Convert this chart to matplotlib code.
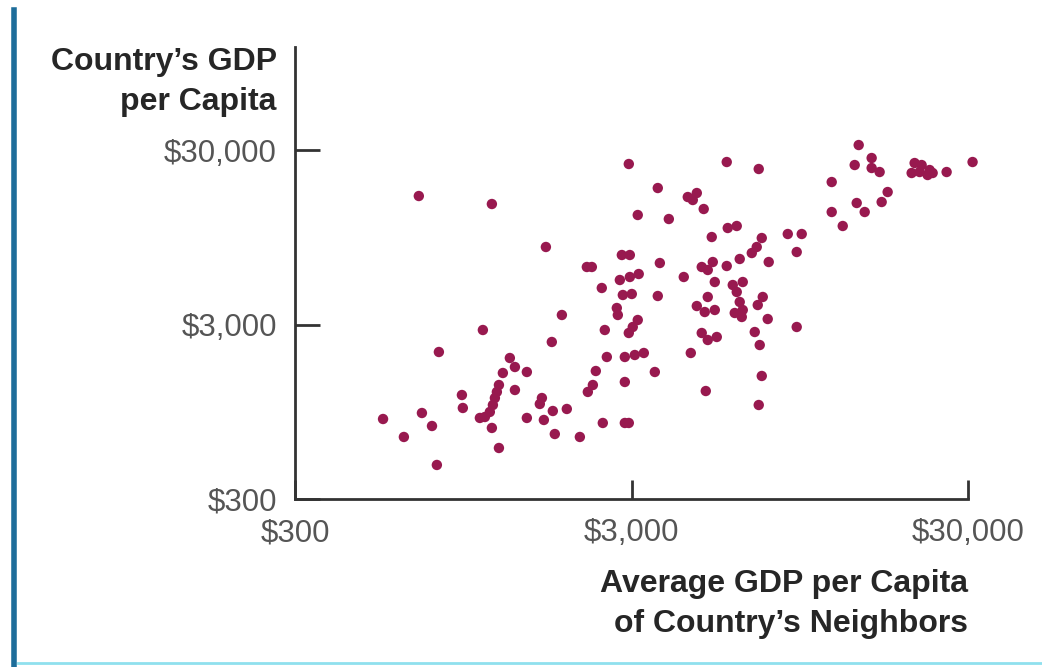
import matplotlib.pyplot as plt
from matplotlib.lines import Line2D

# average GDP per capita of neighbours (x) and country's own GDP per capita (y)
neighbor_gdp = [
    548, 632, 700, 715, 766, 792, 803, 940, 946, 1085,
    1154, 1305, 1351, 1466, 1244, 1211, 1194, 1178, 1162, 1138,
    1100, 1063, 1351, 1154, 1211, 1625, 1602, 1751, 1927, 1466,
    1647, 1775, 2107, 1739, 1863, 1670, 2210, 2287, 2808, 2966,
    2448, 2770, 2966, 3152, 2827, 3006, 2713, 2732, 2499, 3131,
    3026, 2945, 2534, 2866, 3068, 3264, 2350, 2303, 2225, 2866,
    3519, 2465, 2866, 2945, 2945, 3591, 3131, 3873, 3642, 3591,
    4290, 4409, 4690, 4563, 4917, 5756, 7165, 5195, 5796, 6164,
    4851, 5232, 5055, 5304, 5756, 6291, 6832, 7068, 7315, 7672,
    8740, 9615, 9291, 5998, 6423, 6164, 6291, 6423, 5055, 4690,
    4952, 5304, 6080, 6380, 7365, 7117, 7619, 9291, 6972, 4851,
    5055, 5377, 7214, 4501, 7315, 4987, 7165, 11805, 11805, 12730,
    14007, 14794, 16615, 17310, 13815, 14199, 15515, 15515, 16386, 20820,
    21842, 20399, 21546, 23072, 23550, 22758, 25914, 30950,
]
country_gdp = [
    862, 680, 16350, 933, 786, 470, 2087, 1183, 997, 2790,
    14712, 1928, 1712, 1603, 1582, 1350, 1232, 1137, 1037, 946,
    885, 874, 1264, 766, 588, 1137, 1051, 958, 984, 874,
    851, 707, 680, 2382, 3401, 8344, 6408, 6408, 7506, 7506,
    4857, 5397, 5615, 5841, 4428, 4487, 3730, 3401, 2790, 3184,
    2903, 2682, 1954, 1954, 2006, 2060, 1624, 1350, 1232, 1405,
    1603, 818, 818, 818, 24945, 18168, 12726, 12070, 6753, 4370,
    5615, 16134, 17010, 15510, 13773, 25608, 23352, 9516, 10719, 11007,
    6408, 6843, 6159, 5256, 6492, 7122, 7704, 8344, 9393, 6843,
    9903, 9903, 7809, 5052, 5256, 4608, 4038, 3633, 4314, 3828,
    3537, 3633, 3492, 3312, 4314, 3879, 3225, 2903, 2717, 2682,
    2445, 2544, 2288, 2060, 1521, 1247, 1037, 19665, 13239, 11007,
    14910, 13239, 15105, 17235, 24612, 32040, 26997, 23661, 22443, 25269,
    24612, 22149, 22443, 23043, 22149, 21570, 22443, 25608,
]

tick_values = [300, 3000, 30000]
tick_labels = ["$300", "$3,000", "$30,000"]

plt.rcParams["font.family"] = ["Liberation Sans", "DejaVu Sans"]

fig = plt.figure(figsize=(10.42, 6.67), dpi=100)
ax = fig.add_axes([0.2831, 0.2519, 0.6459, 0.6776])

ax.scatter(neighbor_gdp, country_gdp, s=56, color="#98194f", edgecolors="none",
           zorder=3, clip_on=False)

ax.set_xscale("log")
ax.set_yscale("log")
ax.set_xlim(300, 30000)
ax.set_ylim(300, 116800)
ax.set_xticks(tick_values)
ax.set_xticklabels(tick_labels)
ax.set_yticks(tick_values)
ax.set_yticklabels(tick_labels)
ax.minorticks_off()

for side in ["top", "right"]:
    ax.spines[side].set_visible(False)
for side in ["left", "bottom"]:
    ax.spines[side].set_color("#333333")
    ax.spines[side].set_linewidth(2)

ax.tick_params(axis="x", direction="in", length=14, width=2, color="#333333",
               labelsize=22.5, labelcolor="#555555", pad=14)
ax.tick_params(axis="y", direction="in", length=18, width=2, color="#333333",
               labelsize=22.5, labelcolor="#555555", pad=13)

ax.text(-0.027, 1.0, "Country\u2019s GDP\nper Capita", transform=ax.transAxes,
        ha="right", va="top", fontsize=23, fontweight="bold", color="#262626",
        linespacing=1.45, multialignment="right")
ax.text(1.0, -0.155, "Average GDP per Capita\nof Country\u2019s Neighbors", transform=ax.transAxes,
        ha="right", va="top", fontsize=23, fontweight="bold", color="#262626",
        linespacing=1.45, multialignment="right")

# frame lines at the page edges
fig.add_artist(Line2D([0.0139, 0.0139], [0.0, 0.985], color="#1d6d9a", linewidth=4))
fig.add_artist(Line2D([0.017, 1.0], [0.006, 0.006], color="#8fe0ee", linewidth=2))

plt.savefig("out.png", dpi=100)
